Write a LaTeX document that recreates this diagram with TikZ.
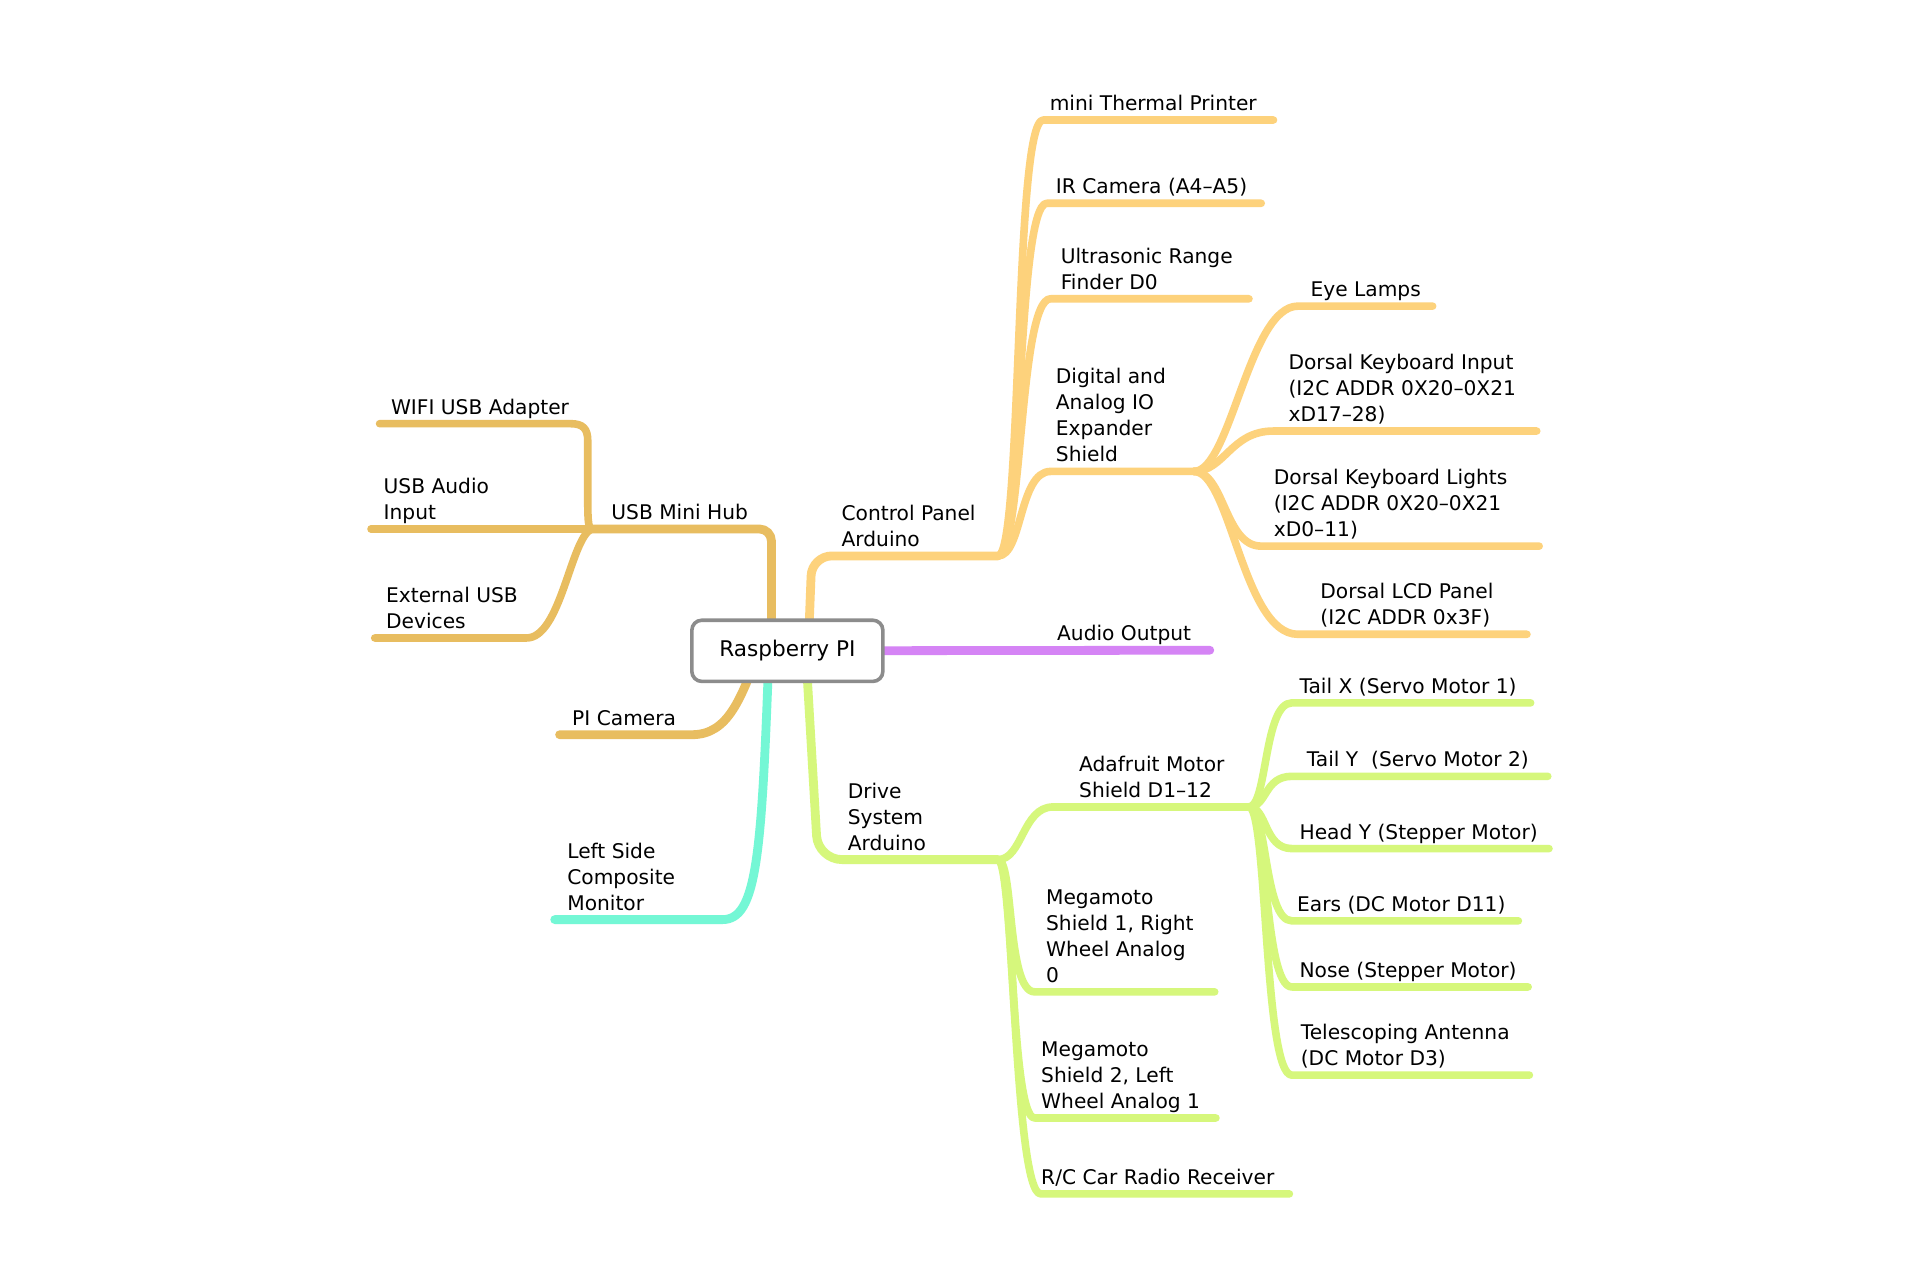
\documentclass[tikz,border=0pt]{standalone}
\usepackage{fontspec}
\setmainfont{DejaVu Sans}
\usetikzlibrary{backgrounds}
\definecolor{hubc}{HTML}{E8BD60}
\definecolor{cpc}{HTML}{FDD27C}
\definecolor{audc}{HTML}{D584F5}
\definecolor{drvc}{HTML}{D6F77C}
\definecolor{monc}{HTML}{74F7D5}
\definecolor{rootc}{HTML}{8C8C8C}
\begin{document}
\begin{tikzpicture}[x=0.6122pt,y=-0.6122pt,
  lbl/.style={anchor=south west,inner sep=0pt,align=left,yshift=-1.2pt,font=\fontsize{10.1}{13}\selectfont,execute at end node=\strut},
  br/.style={line width=3.8pt,line cap=round,line join=round},
  trunk/.style={line width=4.4pt},
  hub/.style={br,draw=hubc},
  cp/.style={br,draw=cpc},
  aud/.style={br,draw=audc},
  drv/.style={br,draw=drvc},
  mon/.style={br,draw=monc},
  rootbox/.style={draw=rootc,line width=1.8pt,rounded corners=5pt,fill=white,minimum width=95.5pt,minimum height=30.6pt,inner sep=0pt,font=\fontsize{10.8}{13}\selectfont}]
\useasboundingbox (0,0) rectangle (1568,1045);

% root
\node[rootbox] (rpi) at (643,531.5) {\raisebox{-0.8pt}{Raspberry PI}};

% junctions and line ends
\coordinate (hubJ) at (483,432);
\coordinate (cpJ) at (815,454);
\coordinate (ioJ) at (975,385);
\coordinate (drJ) at (815,702);
\coordinate (afJ) at (1020,659);
\coordinate (wifiE) at (310,346);
\coordinate (audiE) at (303,432);
\coordinate (extE) at (306,521);
\coordinate (camE) at (457,600);
\coordinate (monE) at (453,751);
\coordinate (tpE) at (1040,98);
\coordinate (irE) at (1030,166);
\coordinate (usE) at (1020,244);
\coordinate (eyeE) at (1170,250);
\coordinate (dkiE) at (1255,352);
\coordinate (dklE) at (1257,446);
\coordinate (lcdE) at (1247,518);
\coordinate (audE) at (988,531);
\coordinate (m1E) at (992,810);
\coordinate (m2E) at (993,913);
\coordinate (rcE) at (1053,975);
\coordinate (txE) at (1250,574);
\coordinate (tyE) at (1264,634);
\coordinate (hyE) at (1265,693);
\coordinate (earE) at (1240,752);
\coordinate (noseE) at (1248,806);
\coordinate (antE) at (1249,878);

% labels
\node[lbl] (hub) at (499,429) {USB Mini Hub};
\node[lbl] (wifi) at (319,343) {WIFI USB Adapter};
\node[lbl] (audi) at (313,429) {USB Audio\\Input};
\node[lbl] (ext) at (315,518) {External USB\\Devices};
\node[lbl] (cam) at (467,597) {PI Camera};
\node[lbl] (mon) at (463,748) {Left Side\\Composite\\Monitor};
\node[lbl] (cp) at (687,451) {Control Panel\\Arduino};
\node[lbl] (tp) at (857,95) {mini Thermal Printer};
\node[lbl] (ir) at (862,163) {IR Camera (A4–A5)};
\node[lbl] (us) at (866,241) {Ultrasonic Range\\Finder D0};
\node[lbl] (io) at (862,382) {Digital and\\Analog IO\\Expander\\Shield};
\node[lbl] (eye) at (1070,247) {Eye Lamps};
\node[lbl] (dki) at (1052,349) {Dorsal Keyboard Input\\(I2C ADDR 0X20–0X21\\xD17–28)};
\node[lbl] (dkl) at (1040,443) {Dorsal Keyboard Lights\\(I2C ADDR 0X20–0X21\\xD0–11)};
\node[lbl] (lcd) at (1078,515) {Dorsal LCD Panel\\(I2C ADDR 0x3F)};
\node[lbl] (aud) at (863,528) {Audio Output};
\node[lbl] (drv) at (692,699) {Drive\\System\\Arduino};
\node[lbl] (af) at (881,656) {Adafruit Motor\\Shield D1–12};
\node[lbl] (m1) at (854,807) {Megamoto\\Shield 1, Right\\Wheel Analog\\0};
\node[lbl] (m2) at (850,910) {Megamoto\\Shield 2, Left\\Wheel Analog 1};
\node[lbl] (rc) at (850,972) {R/C Car Radio Receiver};
\node[lbl] (tx) at (1061,571) {Tail X (Servo Motor 1)};
\node[lbl] (ty) at (1067,631) {Tail Y\ \ (Servo Motor 2)};
\node[lbl] (hy) at (1061,690) {Head Y (Stepper Motor)};
\node[lbl] (ear) at (1059,749) {Ears (DC Motor D11)};
\node[lbl] (nose) at (1061,803) {Nose (Stepper Motor)};
\node[lbl] (ant) at (1062,875) {Telescoping Antenna\\(DC Motor D3)};

\begin{scope}[on background layer]
\fill[white] (0,0) rectangle (1568,1045);
% left side
\draw[hub,trunk,rounded corners=6pt] (rpi.center -| 630,0) -- (630,432) -- (hubJ);
\draw[hub] (hubJ) .. controls (480,432) and (480,420) .. (480,405) -- (480,360) .. controls (480,350) and (476,346) .. (466,346) -- (wifiE);
\draw[hub] (hubJ) -- (audiE);
\draw[hub] (hubJ) .. controls (466,440) and (458,521) .. (430,521) -- (extE);
\draw[hub,trunk] (rpi.center -| 620,0) .. controls (605,570) and (595,600) .. (565,600) -- (camE);
\draw[mon,trunk] (rpi.center -| 628,0) .. controls (622,700) and (618,751) .. (590,751) -- (monE);
% control panel
\draw[cp,trunk,rounded corners=10pt] (rpi.center -| 660,0) -- (663,454) -- (cpJ);
\draw[cp] (cpJ) .. controls (835,454) and (828,98) .. (852,98) -- (tpE);
\draw[cp] (cpJ) .. controls (835,454) and (830,166) .. (855,166) -- (irE);
\draw[cp] (cpJ) .. controls (835,454) and (832,244) .. (858,244) -- (usE);
\draw[cp] (cpJ) .. controls (835,454) and (832,385) .. (858,385) -- (ioJ);
\draw[cp] (ioJ) .. controls (1005,385) and (1020,250) .. (1060,250) -- (eyeE);
\draw[cp] (ioJ) .. controls (1000,385) and (1005,352) .. (1040,352) -- (dkiE);
\draw[cp] (ioJ) .. controls (1000,385) and (1000,446) .. (1030,446) -- (dklE);
\draw[cp] (ioJ) .. controls (1005,385) and (1015,518) .. (1060,518) -- (lcdE);
% audio
\draw[aud,trunk] (rpi.center) -- (audE);
% drive system
\draw[drv,trunk,rounded corners=12pt] (rpi.center -| 658,0) -- (668,702) -- (drJ);
\draw[drv] (drJ) .. controls (835,702) and (835,659) .. (860,659) -- (afJ);
\draw[drv] (drJ) .. controls (828,702) and (822,810) .. (845,810) -- (m1E);
\draw[drv] (drJ) .. controls (828,702) and (825,913) .. (845,913) -- (m2E);
\draw[drv] (drJ) .. controls (828,702) and (828,975) .. (850,975) -- (rcE);
\draw[drv] (afJ) .. controls (1035,659) and (1032,574) .. (1055,574) -- (txE);
\draw[drv] (afJ) .. controls (1035,659) and (1032,634) .. (1055,634) -- (tyE);
\draw[drv] (afJ) .. controls (1035,659) and (1032,693) .. (1055,693) -- (hyE);
\draw[drv] (afJ) .. controls (1035,659) and (1032,752) .. (1055,752) -- (earE);
\draw[drv] (afJ) .. controls (1035,659) and (1032,806) .. (1055,806) -- (noseE);
\draw[drv] (afJ) .. controls (1035,659) and (1032,878) .. (1055,878) -- (antE);
\end{scope}
\end{tikzpicture}
\end{document}
